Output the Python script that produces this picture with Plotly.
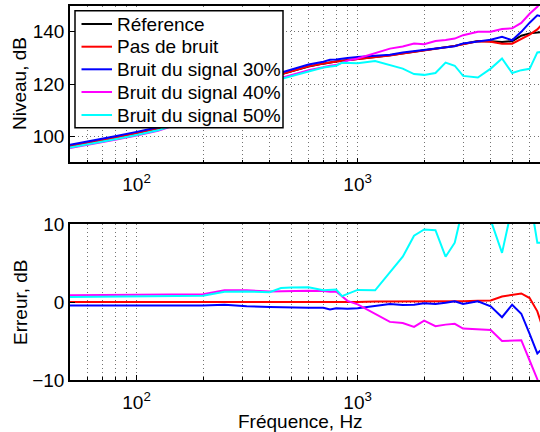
import math
import plotly.graph_objects as go

# ---- data ----
freq = [50, 63, 80, 100, 125, 160, 200, 250, 315, 400, 450, 500, 550, 600, 700, 750,
        800, 850, 900, 1000, 1200, 1400, 1600, 1800, 2000, 2250, 2500, 2750, 3000, 3500,
        4000, 4500, 5000, 5500, 6000, 6500, 7000]

level_ref = [96.3, 97.8, 99.5, 101.2, 103.0, 106.0, 109.5, 113.5, 118.0, 122.4, 123.7, 124.9,
             125.9, 126.7, 127.8, 128.3, 128.6, 128.9, 129.1, 129.5, 130.3, 131.0, 131.7,
             132.3, 132.8, 133.4, 134.0, 134.6, 135.3, 136.5, 136.4, 136.1, 136.4, 138.5,
             139.4, 139.7, 140.0]
level_clean = [96.3, 97.8, 99.5, 101.2, 103.0, 106.0, 109.5, 113.5, 118.05, 122.45, 123.75,
               124.95, 125.95, 126.75, 127.85, 128.35, 128.65, 128.95, 129.15, 129.5, 130.25,
               130.95, 131.65, 132.25, 132.75, 133.35, 133.95, 134.55, 135.2, 136.35, 136.2,
               135.4, 135.45, 137.4, 138.9, 140.9, 144.0]
level_30 = [96.75, 98.25, 99.95, 101.65, 103.45, 106.45, 109.95, 113.85, 118.55, 123.05, 124.4,
            125.6, 126.65, 127.45, 128.55, 129.25, 129.4, 129.75, 129.95, 130.3, 130.8, 131.25,
            132.1, 132.65, 132.95, 133.65, 134.1, 134.5, 135.55, 136.4, 136.95, 138.05, 136.75,
            140.0, 143.5, 146.3, 145.7]
level_40 = [95.45, 96.93, 98.6, 100.28, 102.05, 105.03, 108.5, 112.0, 116.5, 121.05, 122.3,
            123.45, 124.45, 125.25, 126.4, 127.0, 127.25, 128.15, 128.95, 129.8, 131.8, 133.55,
            134.4, 135.5, 135.2, 136.5, 136.9, 137.4, 138.7, 140.0, 140.0, 141.1, 141.35, 143.4,
            146.9, 149.6, 153.0]
level_50 = [95.65, 97.12, 98.8, 100.48, 102.25, 105.22, 108.7, 112.2, 116.65, 121.15, 121.9,
            123.05, 124.0, 124.8, 126.3, 126.75, 127.0, 128.15, 128.05, 127.95, 128.8, 127.2,
            125.9, 123.8, 123.5, 124.2, 128.2, 127.0, 123.1, 122.5, 125.9, 129.8, 124.2, 125.3,
            125.8, 132.1, 132.4]

err_clean = [0.0, 0.0, 0.0, 0.0, 0.0, 0.0, 0.0, 0.0, -0.05, -0.05, -0.05, -0.05, -0.05, -0.05,
             -0.05, -0.05, -0.05, -0.05, -0.05, 0.0, 0.05, 0.05, 0.05, 0.05, 0.05, 0.05, 0.05,
             0.05, 0.1, 0.15, 0.2, 0.7, 0.95, 1.1, 0.5, -1.2, -4.0]
err_30 = [-0.45, -0.45, -0.45, -0.45, -0.45, -0.45, -0.45, -0.35, -0.55, -0.65, -0.7, -0.7,
          -0.75, -0.75, -0.75, -0.95, -0.8, -0.85, -0.85, -0.8, -0.5, -0.25, -0.4, -0.35, -0.15,
          -0.25, -0.1, 0.1, -0.25, 0.1, -0.55, -1.95, -0.35, -1.5, -4.1, -6.6, -5.7]
err_40 = [0.85, 0.87, 0.9, 0.92, 0.95, 0.97, 1.0, 1.5, 1.5, 1.35, 1.4, 1.45, 1.45, 1.45, 1.4,
          1.3, 1.35, 0.75, 0.15, -0.3, -1.5, -2.55, -2.7, -3.2, -2.4, -3.1, -2.9, -2.8, -3.4,
          -3.5, -3.6, -5.0, -4.95, -4.9, -7.5, -9.9, -13.0]
err_50 = [0.65, 0.68, 0.7, 0.72, 0.75, 0.78, 0.8, 1.3, 1.35, 1.25, 1.8, 1.85, 1.9, 1.9, 1.5,
          1.55, 1.6, 0.75, 1.05, 1.55, 1.5, 3.8, 5.8, 8.5, 9.3, 9.2, 5.8, 7.6, 12.2, 14.0, 10.5,
          6.3, 12.2, 13.2, 13.6, 7.6, 7.6]

names = ["Réference", "Pas de bruit", "Bruit du signal 30%", "Bruit du signal 40%",
         "Bruit du signal 50%"]
colors = ["#000000", "#ff0000", "#0000ff", "#ff00ff", "#00ffff"]

x_major = [100, 1000]
x_major_text = ["10<sup>2</sup>", "10<sup>3</sup>"]
x_minor = [60, 70, 80, 90, 200, 300, 400, 500, 600, 700, 800, 900,
           2000, 3000, 4000, 5000, 6000, 7000, 8000, 9000]
top_ticks = [100, 120, 140]
bot_ticks = [-10, 0, 10]
bot_ticktext = ["\u221210", "0", "10"]

FONT = "Liberation Sans, Arial, Helvetica, sans-serif"
FS = 19
GRID = "rgba(0,0,0,0.55)"
DOT = "1px,3px"

W, H, L = 540, 432, 70
PW = W - L


def px(x):
    return (x - L) / PW


def py(y):
    return 1 - y / H


fig = go.Figure()
levels = [level_ref, level_clean, level_30, level_40, level_50]
for n, c, lv in zip(names, colors, levels):
    fig.add_trace(go.Scatter(x=freq, y=lv, mode="lines", name=n, showlegend=False,
                             line=dict(color=c, width=2), xaxis="x", yaxis="y"))
for c, e in zip(colors[1:], [err_clean, err_30, err_40, err_50]):
    fig.add_trace(go.Scatter(x=freq, y=e, mode="lines", showlegend=False,
                             line=dict(color=c, width=2), xaxis="x2", yaxis="y2"))

xcommon = dict(type="log", range=[math.log10(50), 3.825], showline=True, linecolor="black",
               linewidth=1.5, mirror=True, ticks="inside", ticklen=5, tickcolor="black",
               tickvals=x_major, ticktext=x_major_text, showgrid=True, gridcolor=GRID,
               griddash=DOT, gridwidth=1, zeroline=False, automargin=False,
               ticklabelstandoff=4,
               tickfont=dict(family=FONT, size=FS, color="black"),
               minor=dict(tickvals=x_minor, showgrid=True, gridcolor=GRID, griddash=DOT,
                          gridwidth=1, ticks="inside", ticklen=3, tickcolor="black"))
ycommon = dict(showline=True, linecolor="black", linewidth=1.5, mirror=False, ticks="inside",
               ticklen=5, tickcolor="black", showgrid=True, gridcolor=GRID, griddash=DOT,
               gridwidth=1, zeroline=False, automargin=False,
               tickfont=dict(family=FONT, size=FS, color="black"))

# manual legend (box, line samples, labels)
leg_left, leg_right, leg_top, leg_bottom = 75, 283, 10.7, 127.7
item_y = [24, 46.7, 69.3, 92, 115]
shapes = [dict(type="rect", xref="paper", yref="paper", x0=px(leg_left), x1=px(leg_right),
               y0=py(leg_bottom), y1=py(leg_top), fillcolor="white",
               line=dict(color="black", width=1.5), layer="above")]
annotations = []
for n, c, yy in zip(names, colors, item_y):
    shapes.append(dict(type="line", xref="paper", yref="paper", x0=px(81.5), x1=px(112),
                       y0=py(yy), y1=py(yy), line=dict(color=c, width=2), layer="above"))
    annotations.append(dict(text=n, xref="paper", yref="paper", x=px(114.5), y=py(yy),
                            xanchor="left", yanchor="middle", showarrow=False,
                            font=dict(family=FONT, size=FS, color="black")))

annotations += [
    dict(text="Niveau, dB", xref="paper", yref="paper", x=px(20), y=py(84),
         textangle=-90, showarrow=False, xanchor="center", yanchor="middle",
         font=dict(family=FONT, size=FS, color="black")),
    dict(text="Erreur, dB", xref="paper", yref="paper", x=px(20), y=py(302),
         textangle=-90, showarrow=False, xanchor="center", yanchor="middle",
         font=dict(family=FONT, size=FS, color="black")),
    dict(text="Fréquence, Hz", xref="paper", yref="paper", x=px(300), y=py(421),
         showarrow=False, xanchor="center", yanchor="middle",
         font=dict(family=FONT, size=FS, color="black")),
]

fig.update_layout(
    width=W, height=H,
    margin=dict(l=L, r=0, t=0, b=0),
    paper_bgcolor="white", plot_bgcolor="white",
    font=dict(family=FONT, size=FS, color="black"),
    xaxis=dict(domain=[0, 1], anchor="y", **xcommon),
    yaxis=dict(domain=[py(162.3), py(5.7)], anchor="x", range=[90, 150], tickvals=top_ticks,
               **ycommon),
    xaxis2=dict(domain=[0, 1], anchor="y2", **xcommon),
    yaxis2=dict(domain=[py(380), py(224)], anchor="x2", range=[-10, 10], tickvals=bot_ticks,
                ticktext=bot_ticktext, **ycommon),
    showlegend=False,
    shapes=shapes,
    annotations=annotations,
)

fig.write_html("out.html", config={"displayModeBar": False},
               post_script="document.body.style.margin='0px';"
                           "document.body.style.overflow='hidden';")
